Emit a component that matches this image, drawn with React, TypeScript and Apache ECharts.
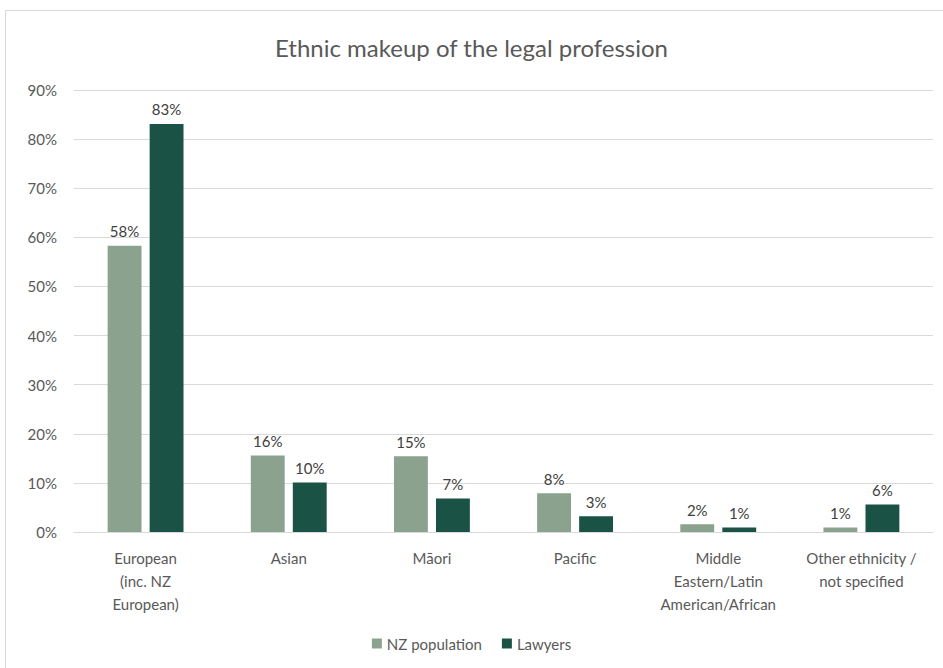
import React, { useEffect, useRef } from "react";
import * as echarts from "echarts";

const categories = [
  "European\n(inc. NZ\nEuropean)",
  "Asian",
  "Māori",
  "Pacific",
  "Middle\nEastern/Latin\nAmerican/African",
  "Other ethnicity /\nnot specified",
];
const nzPopulation = [58.3, 15.6, 15.4, 7.9, 1.6, 0.9];
const lawyers = [83.1, 10.1, 6.8, 3.2, 0.9, 5.6];
const yTicks = [0, 10, 20, 30, 40, 50, 60, 70, 80, 90];

const FONT = "Lato";
const TXT = "#595959";

export default function App() {
  const ref = useRef<HTMLDivElement>(null);
  useEffect(() => {
    if (!ref.current) return;
    const chart = echarts.init(ref.current, undefined, { renderer: "svg" });
    const labelCfg = {
      show: true,
      position: "top",
      distance: 7,
      color: "#404040",
      fontFamily: FONT,
      fontSize: 15,
      formatter: (p: any) => Math.round(p.value) + "%",
    };
    chart.setOption({
      animation: false,
      backgroundColor: "#ffffff",
      textStyle: { fontFamily: FONT },
      title: {
        text: "Ethnic makeup of the legal profession",
        left: "center",
        top: 30,
        textStyle: { fontFamily: FONT, fontSize: 24, fontWeight: "normal", color: TXT },
      },
      graphic: [
        {
          type: "rect",
          shape: { x: 5.5, y: 10.5, width: 980, height: 700 },
          style: { fill: "none", stroke: "#d9d9d9", lineWidth: 1 },
          silent: true,
        },
      ],
      legend: {
        bottom: 12,
        left: "center",
        itemWidth: 10,
        itemHeight: 10,
        itemGap: 20,
        icon: "rect",
        textStyle: { fontFamily: FONT, fontSize: 15, color: TXT },
        data: ["NZ population", "Lawyers"],
      },
      grid: { left: 74, right: 10, top: 90, bottom: 136 },
      xAxis: {
        type: "category",
        data: categories,
        axisLine: { lineStyle: { color: "#d9d9d9" } },
        axisTick: { show: false },
        axisLabel: {
          color: TXT,
          fontFamily: FONT,
          fontSize: 15,
          lineHeight: 23,
          margin: 14,
          interval: 0,
        },
      },
      yAxis: {
        type: "value",
        min: 0,
        max: 90,
        interval: 10,
        axisLine: { show: false },
        axisTick: { show: false },
        splitLine: { lineStyle: { color: "#d9d9d9" } },
        axisLabel: {
          color: TXT,
          fontFamily: FONT,
          fontSize: 15,
          margin: 17,
          formatter: (v: number) => (yTicks.includes(v) ? v + "%" : ""),
        },
      },
      series: [
        {
          name: "NZ population",
          type: "bar",
          data: nzPopulation,
          itemStyle: { color: "#8AA28E" },
          barGap: "24%",
          barCategoryGap: "47%",
          label: labelCfg,
        },
        {
          name: "Lawyers",
          type: "bar",
          data: lawyers,
          itemStyle: { color: "#1A5245" },
          label: labelCfg,
        },
      ],
    });
    return () => chart.dispose();
  }, []);
  return (
    <div
      ref={ref}
      style={{ position: "absolute", left: 0, top: 0, width: 943, height: 668 }}
    />
  );
}
